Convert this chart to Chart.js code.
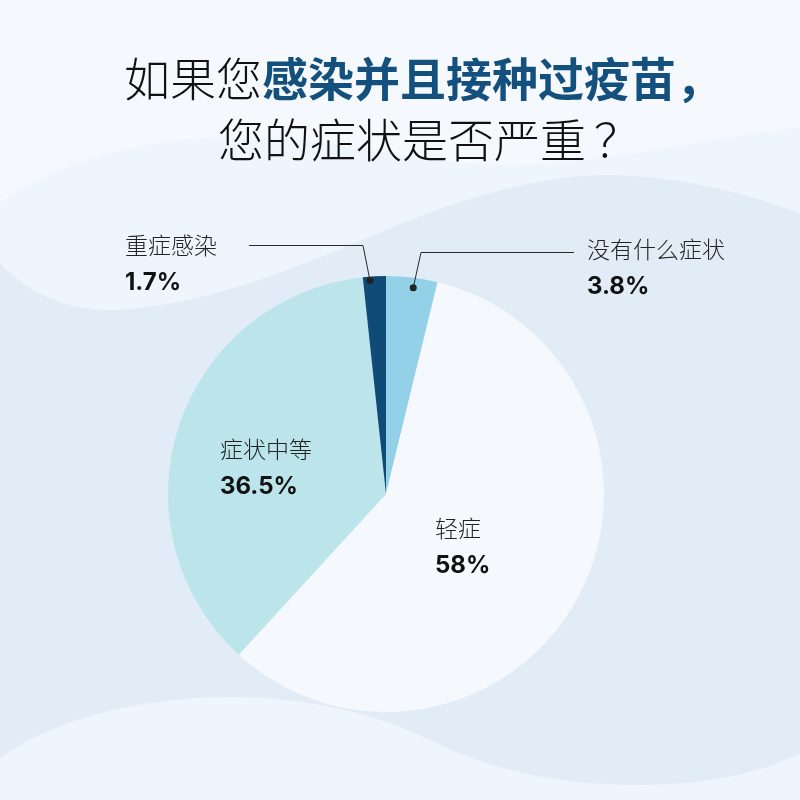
<!DOCTYPE html>
<html lang="zh-CN">
<head>
<meta charset="utf-8">
<script src="https://cdn.jsdelivr.net/npm/chart.js@4"></script>
<style>
  html, body { margin: 0; padding: 0; background: #f5f8fd; }
  #wrap { position: relative; width: 800px; height: 800px; overflow: hidden; }
  #chart { position: absolute; left: 0; top: 0; }
  .title {
    position: absolute; left: 23px; width: 800px; text-align: center;
    font-family: "Noto Sans CJK SC", sans-serif; font-size: 46px; font-weight: 300;
    line-height: 60px; color: #111; white-space: nowrap;
  }
  .title b { color: #14507d; font-weight: 700; }
  .title .q { padding-left: 8px; }
</style>
</head>
<body>
<div id="wrap">
  <canvas id="chart" width="800" height="800"></canvas>
  <div class="title" style="top:46px">如果您<b>感染并且接种过疫苗，</b></div>
  <div class="title" style="top:107px; left:29px">您的症状是否严重<span class="q">？</span></div>
</div>
<script>
// ----------------- DATA -----------------
const categories = ["没有什么症状", "轻症", "症状中等", "重症感染"];
const values = [3.8, 58, 36.5, 1.7];
const valueLabels = ["3.8%", "58%", "36.5%", "1.7%"];
const sliceColors = ["#92d1e8", "#f5f9fe", "#bce5eb", "#0f4b76"];

// label anchor (left edge, y of name line) for each slice
const labelPos = [[587, 249], [435, 528], [220, 449], [125, 245]];

// ----------------- BACKGROUND WAVES -----------------
const wavesPlugin = {
  id: "waves",
  beforeDraw(chart) {
    const ctx = chart.ctx;
    ctx.save();
    ctx.fillStyle = "#f5f8fd";
    ctx.fillRect(0, 0, 800, 800);

    ctx.fillStyle = "#eef5fd";
    ctx.beginPath();
    ctx.moveTo(0, 203);
    ctx.bezierCurveTo(60, 160, 150, 137, 240, 137);
    ctx.bezierCurveTo(340, 137, 420, 165, 500, 165);
    ctx.bezierCurveTo(600, 165, 700, 140, 800, 127);
    ctx.lineTo(800, 800); ctx.lineTo(0, 800); ctx.closePath();
    ctx.fill();

    ctx.fillStyle = "#e2ecf7";
    ctx.beginPath();
    ctx.moveTo(0, 263);
    ctx.bezierCurveTo(30, 295, 70, 311, 115, 310);
    ctx.bezierCurveTo(210, 306, 310, 262, 400, 224);
    ctx.bezierCurveTo(480, 192, 550, 175, 607, 175);
    ctx.bezierCurveTo(680, 175, 750, 195, 800, 213);
    ctx.lineTo(800, 800); ctx.lineTo(0, 800); ctx.closePath();
    ctx.fill();

    ctx.fillStyle = "#eef5fd";
    ctx.beginPath();
    ctx.moveTo(0, 758);
    ctx.bezierCurveTo(60, 715, 150, 697, 230, 697);
    ctx.bezierCurveTo(310, 697, 380, 715, 430, 740);
    ctx.bezierCurveTo(500, 775, 570, 785, 640, 785);
    ctx.bezierCurveTo(710, 785, 770, 770, 800, 753);
    ctx.lineTo(800, 800); ctx.lineTo(0, 800); ctx.closePath();
    ctx.fill();
    ctx.restore();
  }
};

// ----------------- LABELS + LEADERS -----------------
function pointOnArc(arc, frac, inset) {
  const a = arc.startAngle + (arc.endAngle - arc.startAngle) * frac;
  const r = arc.outerRadius - inset;
  return [arc.x + r * Math.cos(a), arc.y + r * Math.sin(a)];
}

const labelsPlugin = {
  id: "sliceLabels",
  afterDraw(chart) {
    const ctx = chart.ctx;
    const arcs = chart.getDatasetMeta(0).data;
    ctx.save();

    // leader lines for the two thin slices
    ctx.strokeStyle = "#2a2a2a";
    ctx.lineWidth = 1;
    ctx.fillStyle = "#222";
    const d0 = pointOnArc(arcs[0], 0.55, 10);
    ctx.beginPath();
    ctx.moveTo(574, 252.5); ctx.lineTo(421, 252.5); ctx.lineTo(d0[0], d0[1]);
    ctx.stroke();
    ctx.beginPath(); ctx.arc(d0[0], d0[1], 3.5, 0, Math.PI * 2); ctx.fill();

    const d3 = pointOnArc(arcs[3], 0.3, 4);
    ctx.beginPath();
    ctx.moveTo(249, 245.5); ctx.lineTo(363, 245.5); ctx.lineTo(d3[0], d3[1]);
    ctx.stroke();
    ctx.beginPath(); ctx.arc(d3[0], d3[1], 3.5, 0, Math.PI * 2); ctx.fill();

    ctx.textAlign = "left";
    ctx.textBaseline = "middle";
    categories.forEach((name, i) => {
      const [x, y] = labelPos[i];
      ctx.fillStyle = "#222";
      ctx.font = '300 23px "Noto Sans CJK SC", sans-serif';
      ctx.fillText(name, x, y);
      ctx.fillStyle = "#111";
      ctx.font = '700 24px "Inter", sans-serif';
      ctx.fillText(valueLabels[i], x, y + 38);
    });
    ctx.restore();
  }
};

// ----------------- CHART -----------------
const chart = new Chart(document.getElementById("chart").getContext("2d"), {
  type: "pie",
  data: {
    labels: categories,
    datasets: [{
      data: values,
      backgroundColor: sliceColors,
      borderWidth: 0,
    }]
  },
  options: {
    responsive: false,
    animation: false,
    layout: { padding: { left: 168, right: 196, top: 276, bottom: 88 } },
    plugins: {
      legend: { display: false },
      tooltip: { enabled: false },
    },
  },
  plugins: [wavesPlugin, labelsPlugin],
});
</script>
</body>
</html>
